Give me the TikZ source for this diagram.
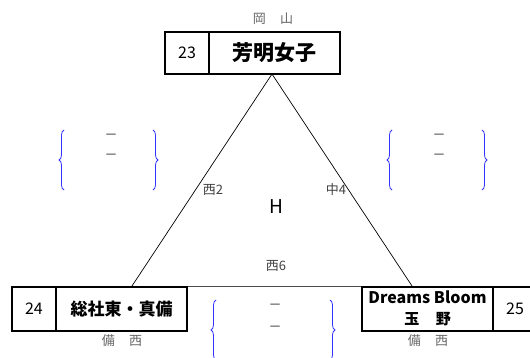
\documentclass[tikz,border=0pt]{standalone}
\usepackage{fontspec}
\setmainfont{Noto Sans CJK JP}
\usetikzlibrary{decorations.pathreplacing}
\begin{document}
\begin{tikzpicture}[x=1pt,y=-1pt,
  cell/.style={draw,line width=1.3pt,inner sep=0pt},
  gray label/.style={text=black!60,font=\fontsize{13}{13}\selectfont},
  edge label/.style={text=black!75,font=\fontsize{13}{13}\selectfont},
  brc/.style={draw=blue!80,line width=0.8pt,decorate,decoration={brace,amplitude=5pt}},
  dashmark/.style={text=black!80,font=\fontsize{13}{13}\selectfont}]
\useasboundingbox (0,0) rectangle (530,358);
% triangle
\coordinate (T) at (272,74);
\coordinate (L) at (132,286);
\coordinate (R) at (412,286);
\coordinate (BL) at (100,286);
\coordinate (BR) at (440,286);
\draw[line width=0.7pt] (L) -- (T) -- (R);
\draw[line width=0.7pt,black!70] (BL) -- (BR);
% top box
\draw[cell] (165,32) rectangle (340,74);
\draw[line width=1.3pt] (209,32) -- (209,74);
\node (n23) at (187,53) {\fontsize{16}{16}\selectfont 23};
\node (hm) at (274.5,53) {\fontsize{21}{21}\selectfont\bfseries 芳明女子};
\node[gray label] (okayama) at (273,19) {岡\hspace{1.1em}山};
% left box
\fill[white] (12,287) rectangle (187,331);
\draw[cell] (12,287) rectangle (187,331);
\draw[line width=1.3pt] (56,287) -- (56,331);
\node (n24) at (34,309) {\fontsize{16}{16}\selectfont 24};
\node (sj) at (121.5,309) {\fontsize{17}{17}\selectfont\bfseries 総社東・真備};
\node[gray label] (bs1) at (122,341) {備\hspace{1.1em}西};
% right box
\fill[white] (362,287) rectangle (531,331);
\draw[cell] (362,287) rectangle (531,331);
\draw[line width=1.3pt] (493,287) -- (493,331);
\node (db) at (427.5,297) {\fontsize{16}{16}\selectfont\bfseries Dreams Bloom};
\node (tm) at (427.5,319) {\fontsize{15}{15}\selectfont\bfseries 玉\hspace{1.1em}野};
\node (n25) at (515,309) {\fontsize{16}{16}\selectfont 25};
\node[gray label] (bs2) at (428,341) {備\hspace{1.1em}西};
% center labels
\node[edge label] (w2) at (213,190) {西2};
\node[edge label] (c4) at (336,190) {中4};
\node (H) at (276,207) {\fontsize{19}{19}\selectfont H};
\node[edge label] (w6) at (276,266) {西6};
% braces left
\draw[brc] (64,190) -- (64,130);
\draw[brc] (153,130) -- (153,190);
\node[dashmark] (d1) at (111,137) {－};
\node[dashmark] (d2) at (111,157) {－};
% braces right
\draw[brc] (392,190) -- (392,130);
\draw[brc] (482,130) -- (482,190);
\node[dashmark] (d3) at (439,137) {－};
\node[dashmark] (d4) at (439,157) {－};
% braces bottom
\draw[brc] (216,360) -- (216,300);
\draw[brc] (330,300) -- (330,360);
\node[dashmark] (d5) at (275,307) {－};
\node[dashmark] (d6) at (275,329) {－};
\end{tikzpicture}
\end{document}
